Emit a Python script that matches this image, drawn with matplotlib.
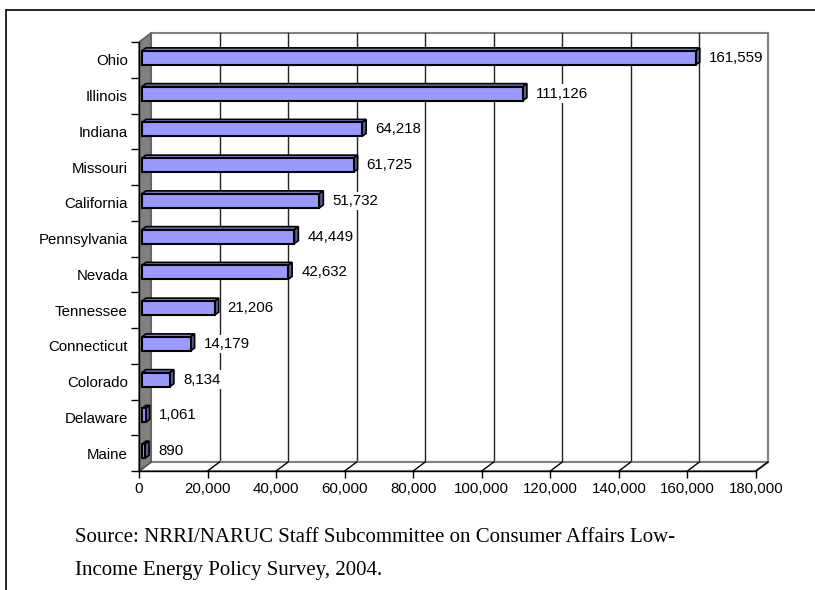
import numpy as np
import matplotlib
matplotlib.use("Agg")
import matplotlib.pyplot as plt
from matplotlib.patches import Polygon, Rectangle
from matplotlib.lines import Line2D

# Low-income energy program participants by state
states = ["Ohio", "Illinois", "Indiana", "Missouri", "California", "Pennsylvania",
          "Nevada", "Tennessee", "Connecticut", "Colorado", "Delaware", "Maine"]
households = [161559, 111126, 64218, 61725, 51732, 44449,
              42632, 21206, 14179, 8134, 1061, 890]
x_ticks = [0, 20000, 40000, 60000, 80000, 100000, 120000, 140000, 160000, 180000]
x_max = 180000
source_lines = ["Source: NRRI/NARUC Staff Subcommittee on Consumer Affairs Low-",
                "Income Energy Policy Survey, 2004."]

W, H = 815, 590
fig = plt.figure(figsize=(W / 100, H / 100), dpi=100)
fig.patch.set_facecolor("white")

# front plane of the 3-D box, in pixels
L, R, T, B = 139, 756, 42, 471
ax = fig.add_axes([L / W, 1 - B / H, (R - L) / W, (B - T) / H])
n = len(states)
ax.set_xlim(0, x_max)
ax.set_ylim(n - 0.5, -0.5)
ax.set_facecolor("none")

xpp = x_max / (R - L)   # data units per pixel
ypp = n / (B - T)


def off(dx_px, dy_px):
    """pixel shift (right, up) expressed in data units"""
    return dx_px * xpp, -dy_px * ypp


GRAY = "#808080"
wdx, wdy = off(12, 9)       # wall depth
y0, y1 = -0.5, n - 0.5

# back wall
ax.add_patch(Rectangle((wdx, y0 + wdy), x_max, n, facecolor="white",
                       edgecolor=GRAY, lw=1.5, clip_on=False, zorder=0))
for t in x_ticks[1:-1]:
    ax.add_line(Line2D([t + wdx, t + wdx], [y0 + wdy, y1 + wdy], color="#222222",
                       lw=1.0, clip_on=False, zorder=1))

# floor
ax.add_patch(Polygon([(0, y1), (x_max, y1), (x_max + wdx, y1 + wdy), (wdx, y1 + wdy)],
                     closed=True, facecolor="white", edgecolor=GRAY, lw=1.5,
                     clip_on=False, zorder=1))
for t in x_ticks:
    ax.add_line(Line2D([t, t + wdx], [y1, y1 + wdy], color="black", lw=1.0,
                       clip_on=False, zorder=1.5))

# left wall
ax.add_patch(Polygon([(0, y0), (0, y1), (wdx, y1 + wdy), (wdx, y0 + wdy)],
                     closed=True, facecolor=GRAY, edgecolor="#5a5a5a", lw=1.0,
                     clip_on=False, zorder=2))

# 3-D bars
fdx, fdy = off(3, 2)        # bar front offset from front plane
ddx, ddy = off(4, 3)        # bar depth
bh = 14 * ypp
FRONT, TOP, SIDE = "#9999FF", "#7A7ACC", "#5C5C99"
for i, v in enumerate(households):
    yc = i + fdy
    yt, yb = yc - bh / 2, yc + bh / 2
    x0, x1 = fdx, fdx + v
    ax.add_patch(Polygon([(x0, yt), (x1, yt), (x1 + ddx, yt + ddy), (x0 + ddx, yt + ddy)],
                         closed=True, facecolor=TOP, edgecolor="black", lw=1.2,
                         clip_on=False, zorder=3))
    ax.add_patch(Polygon([(x1, yt), (x1, yb), (x1 + ddx, yb + ddy), (x1 + ddx, yt + ddy)],
                         closed=True, facecolor=SIDE, edgecolor="black", lw=1.2,
                         clip_on=False, zorder=3))
    ax.add_patch(Rectangle((x0, yt), v, bh, facecolor=FRONT, edgecolor="black",
                           lw=1.5, clip_on=False, zorder=3.2))
    ax.annotate(f"{v:,}", xy=(x1, yc), xytext=(13, 0), textcoords="offset pixels",
                ha="left", va="center", fontsize=10.8, family="Liberation Sans",
                bbox=dict(boxstyle="square,pad=0.15", facecolor="white", edgecolor="none"),
                zorder=4, annotation_clip=False)

# axes, ticks and labels
for s in ("top", "right"):
    ax.spines[s].set_visible(False)
for s in ("left", "bottom"):
    ax.spines[s].set_linewidth(1.0)
    ax.spines[s].set_zorder(2.5)

ax.set_xticks(x_ticks)
ax.set_xticklabels([f"{t:,}" for t in x_ticks], fontsize=10.8, family="Liberation Sans")
ax.tick_params(axis="x", direction="out", length=5, width=1, pad=3)

ax.set_yticks(np.arange(n + 1) - 0.5)
ax.set_yticklabels([""] * (n + 1))
ax.set_yticks(np.arange(n), minor=True)
ax.set_yticklabels(states, minor=True, fontsize=10.8, family="Liberation Sans")
ax.tick_params(axis="y", which="major", direction="out", length=6, width=1)
ax.tick_params(axis="y", which="minor", length=0, pad=8)

# page frame
fig.add_artist(Line2D([6 / W, 1], [1 - 10 / H, 1 - 10 / H], transform=fig.transFigure,
                      color="black", lw=1.2))
fig.add_artist(Line2D([6 / W, 6 / W], [1 - 10 / H, 0], transform=fig.transFigure,
                      color="black", lw=1.2))

# source note
for k, line in enumerate(source_lines):
    fig.text(75 / W, 1 - (538 + 32 * k) / H, line, family="Liberation Serif",
             fontsize=15, va="center", ha="left")

fig.savefig("out.png", dpi=100)
